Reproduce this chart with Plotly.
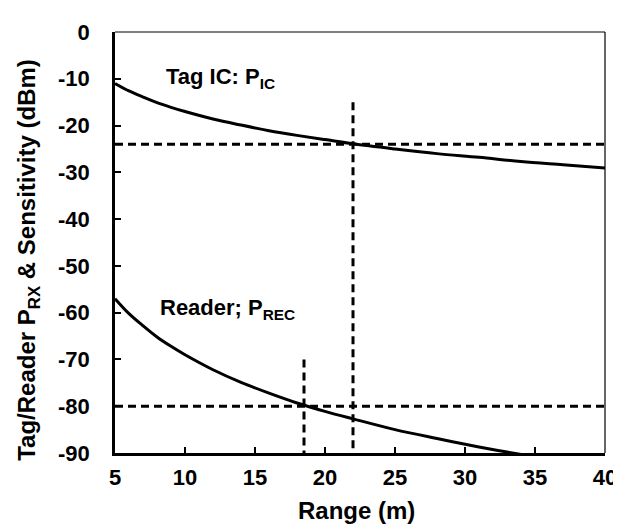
import plotly.graph_objects as go

# Range (m)
tag_range = [5, 6, 7, 8, 9, 10, 12, 14, 16, 18, 20, 22, 25, 28, 31, 34, 37, 40]
# Tag IC received power P_IC (dBm)
tag_pic = [-11.0, -12.6, -13.9, -15.1, -16.1, -17.0, -18.6, -19.9, -21.1, -22.1,
           -23.0, -23.9, -25.0, -26.0, -26.8, -27.7, -28.4, -29.1]

reader_range = [5, 6, 7, 8, 9, 10, 12, 14, 16, 18, 20, 22, 25, 28, 31, 33, 35]
# Reader received power P_REC (dBm)
reader_prec = [-57.0, -60.2, -62.8, -65.2, -67.2, -69.0, -72.2, -74.9, -77.2, -79.3,
               -81.1, -82.7, -85.0, -86.9, -88.7, -89.8, -90.8]

# Sensitivity thresholds (dBm) and crossing ranges (m)
tag_sensitivity = -24
reader_sensitivity = -80
tag_max_range = 22
reader_max_range = 18.5
tag_vline_top = -15
reader_vline_top = -70

x_min, x_max = 5, 40
y_min, y_max = -90, 0
x_ticks = [5, 10, 15, 20, 25, 30, 35, 40]
x_tick_text = ["5", "10", "15", "20", "25", "30", "35", "40"]
y_ticks = [0, -10, -20, -30, -40, -50, -60, -70, -80, -90]
y_tick_text = ["0", "-10", "-20", "-30", "-40", "-50", "-60", "-70", "-80", "-90"]

FONT = "Liberation Sans, Arial, sans-serif"
dash = "8px,5px"

fig = go.Figure()
fig.add_trace(go.Scatter(x=tag_range, y=tag_pic, mode="lines", line_shape="spline",
                         line=dict(color="black", width=3), name="Tag IC", showlegend=False))
fig.add_trace(go.Scatter(x=reader_range, y=reader_prec, mode="lines", line_shape="spline",
                         line=dict(color="black", width=3), name="Reader", showlegend=False))
# horizontal sensitivity lines
fig.add_trace(go.Scatter(x=[x_min, x_max], y=[tag_sensitivity, tag_sensitivity], mode="lines",
                         line=dict(color="black", width=3, dash=dash), showlegend=False))
fig.add_trace(go.Scatter(x=[x_min, x_max], y=[reader_sensitivity, reader_sensitivity], mode="lines",
                         line=dict(color="black", width=3, dash=dash), showlegend=False))
# vertical range markers
fig.add_trace(go.Scatter(x=[tag_max_range, tag_max_range], y=[tag_vline_top, y_min], mode="lines",
                         line=dict(color="black", width=3, dash=dash), showlegend=False))
fig.add_trace(go.Scatter(x=[reader_max_range, reader_max_range], y=[reader_vline_top, y_min], mode="lines",
                         line=dict(color="black", width=3, dash=dash), showlegend=False))

fig.add_annotation(x=8.5, y=-9.8, text="Tag IC: P<sub>IC</sub>", showarrow=False,
                   xanchor="left", yanchor="middle",
                   font=dict(family=FONT, size=22, color="black", weight="bold"))
fig.add_annotation(x=8.1, y=-59.3, text="Reader; P<sub>REC</sub>", showarrow=False,
                   xanchor="left", yanchor="middle",
                   font=dict(family=FONT, size=22, color="black", weight="bold"))

# axis titles
fig.add_annotation(xref="paper", yref="paper", x=(19 - 107) / 501, y=(445 - 250) / 425,
                   text="Tag/Reader P<sub>RX</sub> & Sensitivity (dBm)", textangle=-90,
                   showarrow=False, xanchor="center", yanchor="middle",
                   font=dict(family=FONT, size=24, color="black", weight="bold"))
fig.add_annotation(xref="paper", yref="paper", x=(353.5 - 107) / 501, y=-(503 - 445) / 425,
                   text="Range (m)", showarrow=False, xanchor="center", yanchor="middle",
                   font=dict(family=FONT, size=24, color="black", weight="bold"))

# thin frame on top and right
fig.add_shape(type="line", xref="paper", yref="paper", x0=0, x1=1, y0=1, y1=1,
              line=dict(color="black", width=1.2))
fig.add_shape(type="line", xref="paper", yref="paper", x0=1, x1=1, y0=0, y1=1,
              line=dict(color="black", width=1.2))

fig.update_layout(
    width=621, height=525,
    margin=dict(l=107, r=13, t=20, b=80),
    paper_bgcolor="white", plot_bgcolor="white",
    font=dict(family=FONT, color="black"),
    xaxis=dict(range=[x_min, x_max], tickvals=x_ticks, ticktext=x_tick_text,
               ticks="inside", ticklen=6, tickwidth=2,
               tickcolor="black", showline=True, linecolor="black", linewidth=2.5,
               showgrid=False, zeroline=False, ticklabelstandoff=3,
               tickfont=dict(family=FONT, size=22, color="black", weight="bold")),
    yaxis=dict(range=[y_min, y_max], tickvals=y_ticks, ticktext=y_tick_text,
               ticks="inside", ticklen=6, tickwidth=2,
               tickcolor="black", showline=True, linecolor="black", linewidth=2.5,
               showgrid=False, zeroline=False, ticklabelstandoff=18,
               tickfont=dict(family=FONT, size=22, color="black", weight="bold")),
)

fig.write_html("out.html")
